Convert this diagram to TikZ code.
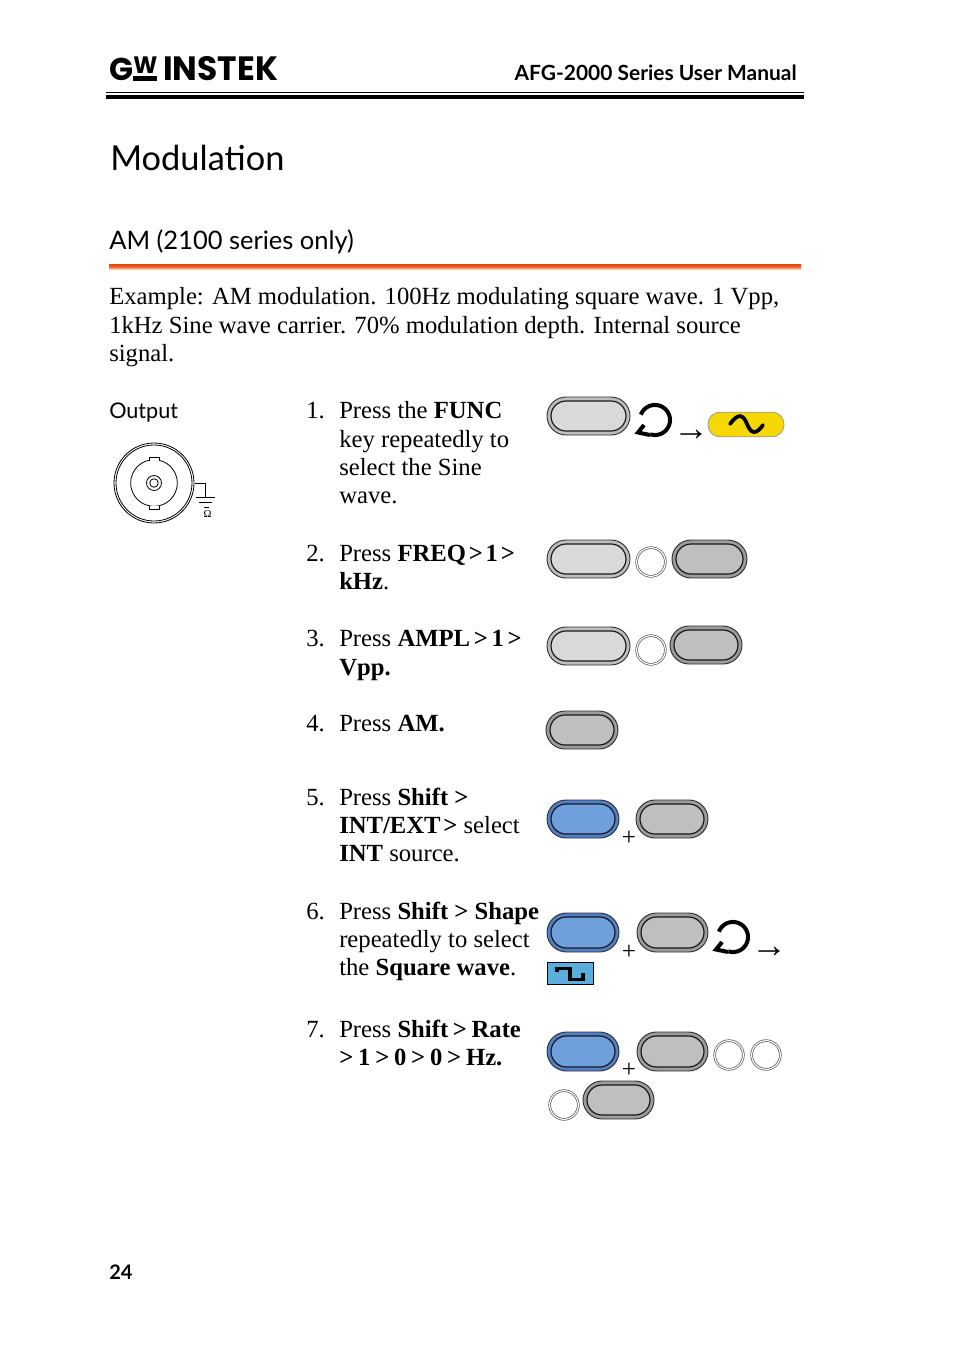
\documentclass[tikz,border=0pt]{standalone}
\usepackage{fontspec}
\usepackage{graphicx}
\setmainfont{Liberation Serif}
\newfontfamily\headfont{Lato}
\newfontfamily\logofont{Poppins}
\newfontfamily\symfont{Liberation Serif}
\usetikzlibrary{calc}
\definecolor{keylight}{HTML}{D9D9D9}
\definecolor{keydark}{HTML}{BFBFBF}
\definecolor{keyblue}{HTML}{6F9FDC}
\definecolor{ringlight}{HTML}{BEBEBE}
\definecolor{ringdark}{HTML}{9C9C9C}
\definecolor{ringblue}{HTML}{4F80C8}
\definecolor{sineyellow}{HTML}{F5D800}
\definecolor{squareblue}{HTML}{5BAEDC}
\definecolor{ruletop}{HTML}{E8480C}
\definecolor{rulebottom}{HTML}{F9CDA8}
\tikzset{
  x=0.75pt,y=-0.75pt,
  bodytext/.style={anchor=base west,inner sep=0pt,yshift=-0.4pt,font=\fontsize{18.5}{21}\selectfont},
  ringkey/.style={draw=black!70,line width=0.5pt,double=white,double distance=0.9pt,fill=white,inner sep=0pt,circle,minimum size=21.5pt},
  plusmark/.style={anchor=center,inner sep=0pt,yshift=-1.6pt,font=\symfont\fontsize{19}{19}\selectfont},
  arrowmark/.style={anchor=center,inner sep=0pt,font=\symfont\fontsize{27}{27}\selectfont},
  rotstroke/.style={line width=3pt,black},
}
\newcommand{\tight}[2]{\textbf{\spaceskip=#1pt #2}}
% name, x1, y1, x2, y2, fill, ring colour
\newcommand{\keycap}[7]{%
  \path let \n1={(#4-#2)*0.75}, \n2={(#5-#3)*0.75} in
    node[draw=black!80,line width=0.7pt,fill=#7,minimum width=\n1 pt,minimum height=\n2 pt,rounded corners=\n2/2 pt,inner sep=0pt] (#1) at ({(#2+#4)/2},{(#3+#5)/2}) {}
    node[draw=black!90,line width=0.9pt,fill=#6,minimum width=\n1 pt-6pt,minimum height=\n2 pt-6pt,rounded corners=\n2/2 pt-3pt,inner sep=0pt] (#1i) at ({(#2+#4)/2},{(#3+#5)/2}) {};
}
\newcommand{\rotmark}[2]{% centre x, y
  \begin{scope}[shift={(#1,#2)}]
    \draw[rotstroke] (-14.1,-5.4) arc[start angle=159,end angle=-108,radius=11.3pt];
    \draw[rotstroke,line join=miter] (-11,5) -- (-17,12.5) -- (-5,15);
  \end{scope}
}
\begin{document}
\begin{tikzpicture}
\useasboundingbox (0,0) rectangle (954,1350);
\fill[white] (0,0) rectangle (954,1350);
% header
\node[anchor=base west,inner sep=0pt] (logoG) at (109,80) {\resizebox{18pt}{!}{\logofont\bfseries G}};
\node[anchor=base west,inner sep=0pt] (logoW) at (133,73) {\resizebox{18pt}{12.5pt}{\logofont\bfseries W}};
\fill (133,76) rectangle (157,81);
\node[anchor=base west,inner sep=0pt] (logoI) at (163,80) {\resizebox{86pt}{18pt}{\logofont\bfseries INSTEK}};
\node[anchor=base east,inner sep=0pt,font=\headfont\bfseries\fontsize{15.7}{18}\selectfont] (hdr) at (797,80) {AFG-2000 Series User Manual};
\draw[line width=0.9pt] (106,92.5) -- (804,92.5);
\fill (106,94.5) rectangle (804,99);
% titles
\node[anchor=base west,inner sep=0pt,font=\headfont\fontsize{25.8}{30}\selectfont] (title) at (110,170) {Modulation};
\node[anchor=base west,inner sep=0pt,font=\headfont\fontsize{19.1}{24}\selectfont] (sub) at (109,249) {AM (2100 series only)};
\shade[top color=ruletop,bottom color=rulebottom,middle color=ruletop!85!rulebottom] (109,264) rectangle (801,269);
% intro
\node[bodytext] (i1) at (109,304) {Example: AM modulation. 100Hz modulating square wave. 1 Vpp,};
\node[bodytext] (i2) at (109,333) {1kHz Sine wave carrier. 70\% modulation depth. Internal source};
\node[bodytext] (i3) at (109,361) {signal.};
\node[anchor=base west,inner sep=0pt,font=\headfont\fontsize{16.2}{20}\selectfont] (out) at (109,418) {Output};
% connector
\draw[line width=0.6pt] (154,483) circle[radius=30pt];
\draw[line width=0.6pt] (154,483) circle[radius=28.5pt];
\draw[line width=0.6pt] (154,483) circle[radius=17.5pt];
\draw[line width=0.6pt] (154,483) circle[radius=5.6pt];
\draw[line width=0.6pt] (154,483) circle[radius=3.2pt];
\draw[line width=0.6pt,fill=white] (149,460.5) -- (149,457) -- (159,457) -- (159,460.5);
\draw[line width=0.6pt,fill=white] (149,505.5) -- (149,509) -- (159,509) -- (159,505.5);
\draw[line width=0.6pt] (195,483) -- (205.5,483) -- (205.5,497);
\draw[line width=0.6pt] (196,497.5) -- (215,497.5);
\draw[line width=0.6pt] (199,502.5) -- (212,502.5);
\draw[line width=1.2pt] (204,507.5) -- (209,507.5);
\node[inner sep=0pt,font=\symfont\fontsize{8}{8}\selectfont] (ohm) at (207.5,514) {Ω};
% steps
\node[bodytext] (n1) at (306,418) {1.};
\node[bodytext] (s1a) at (339,418) {Press the \textbf{FUNC}};
\node[bodytext] (s1b) at (339,447) {key repeatedly to};
\node[bodytext] (s1c) at (339,475) {select the Sine};
\node[bodytext] (s1d) at (339,503) {wave.};
\node[bodytext] (n2) at (306,561) {2.};
\node[bodytext] (s2a) at (339,561) {Press \tight{2.1}{FREQ > 1 >}};
\node[bodytext] (s2b) at (339,589) {\textbf{kHz}.};
\node[bodytext] (n3) at (306,646) {3.};
\node[bodytext] (s3a) at (339,646) {Press \tight{2.8}{AMPL > 1 >}};
\node[bodytext] (s3b) at (339,675) {\textbf{Vpp.}};
\node[bodytext] (n4) at (306,731) {4.};
\node[bodytext] (s4a) at (339,731) {Press \textbf{AM.}};
\node[bodytext] (n5) at (306,805) {5.};
\node[bodytext] (s5a) at (339,805) {Press \textbf{Shift >}};
\node[bodytext] (s5b) at (339,833) {\tight{2}{INT/EXT >} select};
\node[bodytext] (s5c) at (339,861) {\textbf{INT} source.};
\node[bodytext] (n6) at (306,919) {6.};
\node[bodytext] (s6a) at (339,919) {Press \textbf{Shift > Shape}};
\node[bodytext] (s6b) at (339,947) {repeatedly to select};
\node[bodytext] (s6c) at (339,975) {the \textbf{Square wave}.};
\node[bodytext] (n7) at (306,1037) {7.};
\node[bodytext] (s7a) at (339,1037) {Press \tight{3.5}{Shift > Rate}};
\node[bodytext] (s7b) at (339,1065) {\tight{3.6}{> 1 > 0 > 0 > Hz.}};
% keys
\keycap{k1}{547}{397}{630}{435}{keylight}{ringlight}
\rotmark{655}{420}
\node[arrowmark] (a1) at (691,435) {→};
\node[draw=black!40,line width=0.6pt,fill=sineyellow,minimum width=57pt,minimum height=18.5pt,rounded corners=9pt,inner sep=0pt] (sine) at (746,424.5) {};
\draw[line width=2.8pt,line cap=round] (730,424) .. controls (738,413) and (743,414) .. (747,424) .. controls (751,434) and (756,435) .. (763,425);
\keycap{k2a}{547}{540}{630}{578}{keylight}{ringlight}
\node[ringkey] (r2) at (651,562) {};
\keycap{k2b}{672}{540}{747}{578}{keydark}{ringdark}
\keycap{k3a}{547}{627}{630}{665}{keylight}{ringlight}
\node[ringkey] (r3) at (651,650) {};
\keycap{k3b}{670}{626}{742}{664}{keydark}{ringdark}
\keycap{k4}{546}{711}{618}{749}{keydark}{ringdark}
\keycap{k5a}{547}{800}{619}{838}{keyblue}{ringblue}
\node[plusmark] (p5) at (629,836) {+};
\keycap{k5b}{636}{800}{708}{838}{keydark}{ringdark}
\keycap{k6a}{547}{913}{619}{952}{keyblue}{ringblue}
\node[plusmark] (p6) at (629,950) {+};
\keycap{k6b}{637}{913}{708}{952}{keydark}{ringdark}
\rotmark{733}{937}
\node[arrowmark] (a6) at (769,952) {→};
\node[draw=black,line width=0.7pt,fill=squareblue,minimum width=35pt,minimum height=16.5pt,inner sep=0pt] (sq) at (570.5,973) {};
\draw[line width=2.3pt] (557,972) -- (557,968.5) -- (570,968.5) -- (570,979.5) -- (583,979.5) -- (583,973);
\keycap{k7a}{547}{1032}{619}{1071}{keyblue}{ringblue}
\node[plusmark] (p7) at (629,1068) {+};
\keycap{k7b}{637}{1032}{708}{1071}{keydark}{ringdark}
\node[ringkey] (r7a) at (729,1055) {};
\node[ringkey] (r7b) at (766,1055) {};
\node[ringkey] (r7c) at (564,1105) {};
\keycap{k7c}{583}{1081}{654}{1119}{keydark}{ringdark}
\node[anchor=base west,inner sep=0pt,font=\headfont\bfseries\fontsize{15}{18}\selectfont] (pg) at (109,1279) {24};
\end{tikzpicture}
\end{document}
